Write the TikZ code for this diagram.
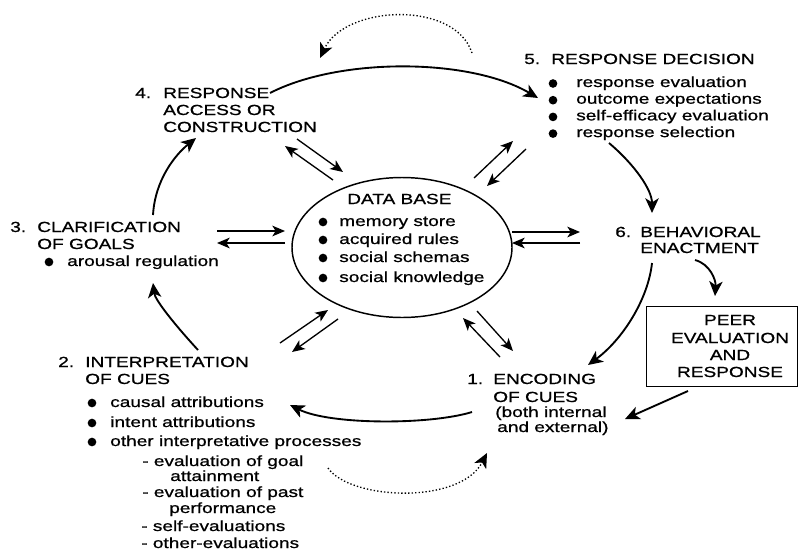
\documentclass[tikz,border=0pt]{standalone}
\usepackage{fontspec}
\setmainfont{Liberation Sans}[FakeStretch=1.3,FakeBold=0.8]
\usetikzlibrary{arrows.meta,shapes.geometric}
\tikzset{
 txt/.style={anchor=base west, inner sep=0pt, font=\fontsize{11}{13}\selectfont},
 ctxt/.style={anchor=base, inner sep=0pt, font=\fontsize{11}{13}\selectfont},
 flow/.style={line width=1.4pt, -{Stealth[length=11pt,width=10pt,inset=3pt]}},
 pair/.style={line width=1pt, -{Stealth[length=9.5pt,width=8pt,inset=2.5pt]}},
 dotline/.style={flow, line width=1pt, dash pattern=on 1pt off 1.6pt},
 bul/.style={circle, fill, inner sep=0pt, minimum size=6.5pt},
}
\begin{document}
\begin{tikzpicture}[x=0.75pt,y=-0.75pt]
\useasboundingbox (0,0) rectangle (798,550);
% ---------- 5 RESPONSE DECISION
\node[txt] (n5) at (524,64) {5.};
\node[txt] (t5) at (551,64) {RESPONSE DECISION};
\foreach \t [count=\i] in {response evaluation,outcome expectations,self-efficacy evaluation,response selection}{
  \node[bul] (b5\i) at (553,{83.5+16.7*(\i-1)}) {};
  \node[txt] (l5\i) at (576,{87+16.7*(\i-1)}) {\t};
}
% ---------- 4
\node[txt] (n4) at (135,98) {4.};
\node[txt] (t4a) at (163,98) {RESPONSE};
\node[txt] (t4b) at (163,115) {ACCESS OR};
\node[txt] (t4c) at (163,132) {CONSTRUCTION};
% ---------- 3
\node[txt] (n3) at (10,232) {3.};
\node[txt] (t3a) at (37,232) {CLARIFICATION};
\node[txt] (t3b) at (37,249) {OF GOALS};
\node[bul] (b31) at (49,262) {};
\node[txt] (l31) at (67,266) {arousal regulation};
% ---------- data base
\node[draw, ellipse, line width=1.1pt, minimum width=165pt, minimum height=105pt] (db) at (402,247.5) {};
\node[txt] (tdb) at (347,204) {DATA BASE};
\foreach \t/\yy [count=\i] in {memory store/226,acquired rules/244,social schemas/262,social knowledge/282}{
  \node[bul] (bd\i) at (323,\yy-4) {};
  \node[txt] (ld\i) at (339,\yy) {\t};
}
% ---------- 2
\node[txt] (n2) at (58,367) {2.};
\node[txt] (t2a) at (85,367) {INTERPRETATION};
\node[txt] (t2b) at (85,384) {OF CUES};
\foreach \t/\yy [count=\i] in {causal attributions/407,intent attributions/427,other interpretative processes/446}{
  \node[bul] (b2\i) at (92,\yy-4) {};
  \node[txt] (l2\i) at (110,\yy) {\t};
}
\node[txt] (s1) at (142,466) {- evaluation of goal};
\node[txt] (s1b) at (170,481) {attainment};
\node[txt] (s2) at (142,497) {- evaluation of past};
\node[txt] (s2b) at (169,513) {performance};
\node[txt] (s3) at (141,531) {- self-evaluations};
\node[txt] (s4) at (141,548) {- other-evaluations};
% ---------- 6
\node[txt] (n6) at (615,237) {6.};
\node[txt] (t6a) at (640,237) {BEHAVIORAL};
\node[txt] (t6b) at (640,253) {ENACTMENT};
% ---------- 1
\node[txt] (n1) at (467,384) {1.};
\node[txt] (t1a) at (493,384) {ENCODING};
\node[txt] (t1b) at (493,402) {OF CUES};
\node[txt] (t1c) at (495,417) {(both internal};
\node[txt] (t1d) at (497,432) {and external)};
% ---------- peer box
\node[draw, line width=0.7pt, minimum width=113.25pt, minimum height=60pt, inner sep=0pt] (peer) at (721.5,346) {};
\node[ctxt] (p1) at (730,325) {PEER};
\node[ctxt] (p2) at (730,343) {EVALUATION};
\node[ctxt] (p3) at (730,360) {AND};
\node[ctxt] (p4) at (730,377) {RESPONSE};
% ---------- endpoints
\coordinate (a45s) at (270,93);  \coordinate (a45e) at (538,98);
\coordinate (a56s) at (609,143); \coordinate (a56e) at (652,213);
\coordinate (a61s) at (652,263); \coordinate (a61e) at (588,365);
\coordinate (a6ps) at (695,260); \coordinate (a6pe) at (715,296);
\coordinate (ap1s) at (688,391); \coordinate (ap1e) at (625,419);
\coordinate (a12s) at (472,412); \coordinate (a12e) at (290,405);
\coordinate (a23s) at (198,350); \coordinate (a23e) at (153,283);
\coordinate (a34s) at (153,215); \coordinate (a34e) at (196,138);
\coordinate (dts) at (472,53);   \coordinate (dte) at (320,58);
\coordinate (dbs) at (328,468);  \coordinate (dbe) at (487,453);
% ---------- main cycle
\draw[flow] (a45s) .. controls (340,57) and (470,58) .. (a45e);
\draw[flow] (a56s) .. controls (635,165) and (652,190) .. (a56e);
\draw[flow] (a61s) .. controls (648,300) and (622,340) .. (a61e);
\draw[flow] (a6ps) .. controls (710,264) and (716,280) .. (a6pe);
\draw[flow] (ap1s) -- (ap1e);
\draw[flow] (a12s) .. controls (430,425) and (330,425) .. (a12e);
\draw[flow] (a23s) .. controls (175,325) and (155,300) .. (a23e);
\draw[flow] (a34s) .. controls (155,180) and (175,155) .. (a34e);
\draw[dotline] (dts) .. controls (455,0) and (345,5) .. (dte);
\draw[dotline] (dbs) .. controls (350,500) and (460,505) .. (dbe);
% ---------- pairs with data base
\coordinate (p4a) at (297,139); \coordinate (p4b) at (343,172);
\coordinate (p4c) at (333,180); \coordinate (p4d) at (285,146);
\coordinate (p3a) at (217,231); \coordinate (p3b) at (285,231);
\coordinate (p3c) at (285,243); \coordinate (p3d) at (217,243);
\coordinate (p6a) at (512,232); \coordinate (p6b) at (580,232);
\coordinate (p6c) at (580,243); \coordinate (p6d) at (512,243);
\coordinate (p5a) at (474,178); \coordinate (p5b) at (513,141);
\coordinate (p5c) at (526,149); \coordinate (p5d) at (487,186);
\coordinate (p2a) at (280,343); \coordinate (p2b) at (328,310);
\coordinate (p2c) at (338,319); \coordinate (p2d) at (292,352);
\coordinate (p1a) at (477,311); \coordinate (p1b) at (513,351);
\coordinate (p1c) at (500,357); \coordinate (p1d) at (463,318);
\foreach \k in {4,3,6,5,2,1}{
  \draw[pair] (p\k a) -- (p\k b);
  \draw[pair] (p\k c) -- (p\k d);
}
\end{tikzpicture}
\end{document}
